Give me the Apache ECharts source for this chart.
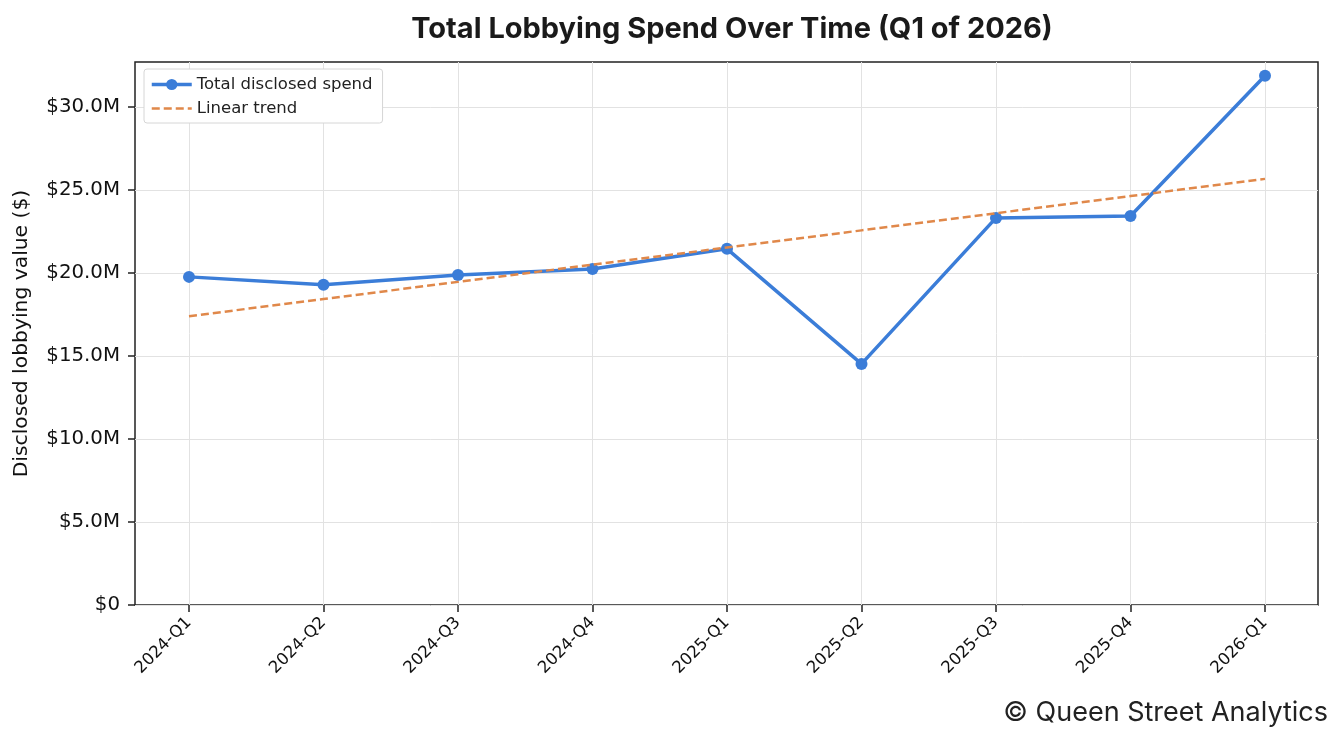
<!DOCTYPE html>
<html>
<head>
<meta charset="utf-8">
<script src="https://cdn.jsdelivr.net/npm/echarts@6/dist/echarts.min.js"></script>
<style>
html, body { margin: 0; padding: 0; background: #fff; }
#chart { width: 1343px; height: 744px; }
</style>
</head>
<body>
<div id="chart"></div>
<script>
// data
const quarters = ['2024-Q1', '2024-Q2', '2024-Q3', '2024-Q4', '2025-Q1', '2025-Q2', '2025-Q3', '2025-Q4', '2026-Q1'];
const spend = [19.76e6, 19.28e6, 19.88e6, 20.24e6, 21.45e6, 14.52e6, 23.31e6, 23.43e6, 31.87e6];
const yTicks = [0, 5e6, 10e6, 15e6, 20e6, 25e6, 30e6];

// least squares trend over the quarter index
function linearTrend(vals) {
  const n = vals.length;
  const mx = (n - 1) / 2;
  const my = vals.reduce((a, b) => a + b, 0) / n;
  let num = 0, den = 0;
  vals.forEach((v, i) => { num += (i - mx) * (v - my); den += (i - mx) * (i - mx); });
  const slope = num / den;
  return vals.map((v, i) => my + slope * (i - mx));
}
const trend = linearTrend(spend);

const Y_MAX = 32.7e6;
const BLUE = '#3b7dd8';
const ORANGE = '#e0884a';
const tickFont = 'DejaVu Sans';

function money(v) {
  if (v === 0) return '$0';
  return '$' + (v / 1e6).toFixed(1) + 'M';
}

const chart = echarts.init(document.getElementById('chart'));

chart.setOption({
  backgroundColor: '#fff',
  animation: false,
  title: {
    text: 'Total Lobbying Spend Over Time (Q1 of 2026)',
    left: 727,
    textAlign: 'center',
    top: 10,
    textStyle: { fontFamily: 'Inter', fontWeight: 'bold', fontSize: 29, color: '#1a1a1a' }
  },
  legend: {
    left: 144,
    top: 69,
    orient: 'vertical',
    backgroundColor: '#fff',
    borderColor: '#d6d6d6',
    borderWidth: 1,
    borderRadius: 3,
    padding: [7, 10, 6, 6],
    itemGap: 7,
    itemWidth: 40,
    itemHeight: 14,
    textStyle: { fontFamily: tickFont, fontSize: 16.5, color: '#222' },
    data: [
      { name: 'Total disclosed spend', lineStyle: { width: 3.5 } },
      { name: 'Linear trend', itemStyle: { opacity: 0 }, lineStyle: { width: 2.5 } }
    ]
  },
  graphic: [{
    type: 'text',
    right: 15,
    top: 699,
    style: { text: '© Queen Street Analytics', font: '27px Inter', fill: '#222' }
  }],
  grid: [
    // outer frame, same box as the matplotlib axes
    { left: 135, right: 25, top: 62, bottom: 139, show: true, borderColor: '#222', borderWidth: 1.5, backgroundColor: 'transparent' },
    // inner grid where the quarters sit, padded 5% on each side
    { left: 189, right: 78, top: 62, bottom: 139 }
  ],
  xAxis: [
    { gridIndex: 0, type: 'value', min: 0, max: 1, show: false },
    {
      gridIndex: 1,
      type: 'category',
      data: quarters,
      boundaryGap: false,
      axisLine: { show: false },
      axisTick: { show: true, length: 7, lineStyle: { color: '#222', width: 1.5 } },
      splitLine: { show: true, lineStyle: { color: '#e2e2e2', width: 1 } },
      axisLabel: {
        rotate: 45,
        margin: 15,
        interval: 0,
        fontFamily: tickFont,
        fontSize: 16.5,
        color: '#111'
      }
    }
  ],
  yAxis: [
    {
      gridIndex: 0,
      type: 'value',
      name: 'Disclosed lobbying value ($)',
      nameLocation: 'middle',
      nameGap: 103,
      nameTextStyle: { fontFamily: tickFont, fontSize: 20.3, color: '#111' },
      min: 0,
      max: Y_MAX,
      interval: 5e6,
      axisLine: { show: false },
      axisTick: { show: true, length: 7, customValues: yTicks, lineStyle: { color: '#222', width: 1.5 } },
      splitLine: { show: true, lineStyle: { color: '#e2e2e2', width: 1 } },
      axisLabel: {
        margin: 15,
        customValues: yTicks,
        fontFamily: tickFont,
        fontSize: 19.8,
        color: '#111',
        formatter: v => money(v)
      }
    },
    { gridIndex: 1, type: 'value', min: 0, max: Y_MAX, show: false, splitLine: { show: false } }
  ],
  series: [
    {
      name: 'Total disclosed spend',
      type: 'line',
      xAxisIndex: 1,
      yAxisIndex: 1,
      data: spend,
      color: BLUE,
      symbol: 'circle',
      symbolSize: 12,
      lineStyle: { color: BLUE, width: 3.5 },
      itemStyle: { color: BLUE },
      z: 3
    },
    {
      name: 'Linear trend',
      type: 'line',
      xAxisIndex: 1,
      yAxisIndex: 1,
      data: trend,
      color: ORANGE,
      symbol: 'none',
      lineStyle: { color: ORANGE, width: 2.5, type: [8, 4] },
      z: 4
    }
  ]
});
</script>
</body>
</html>
